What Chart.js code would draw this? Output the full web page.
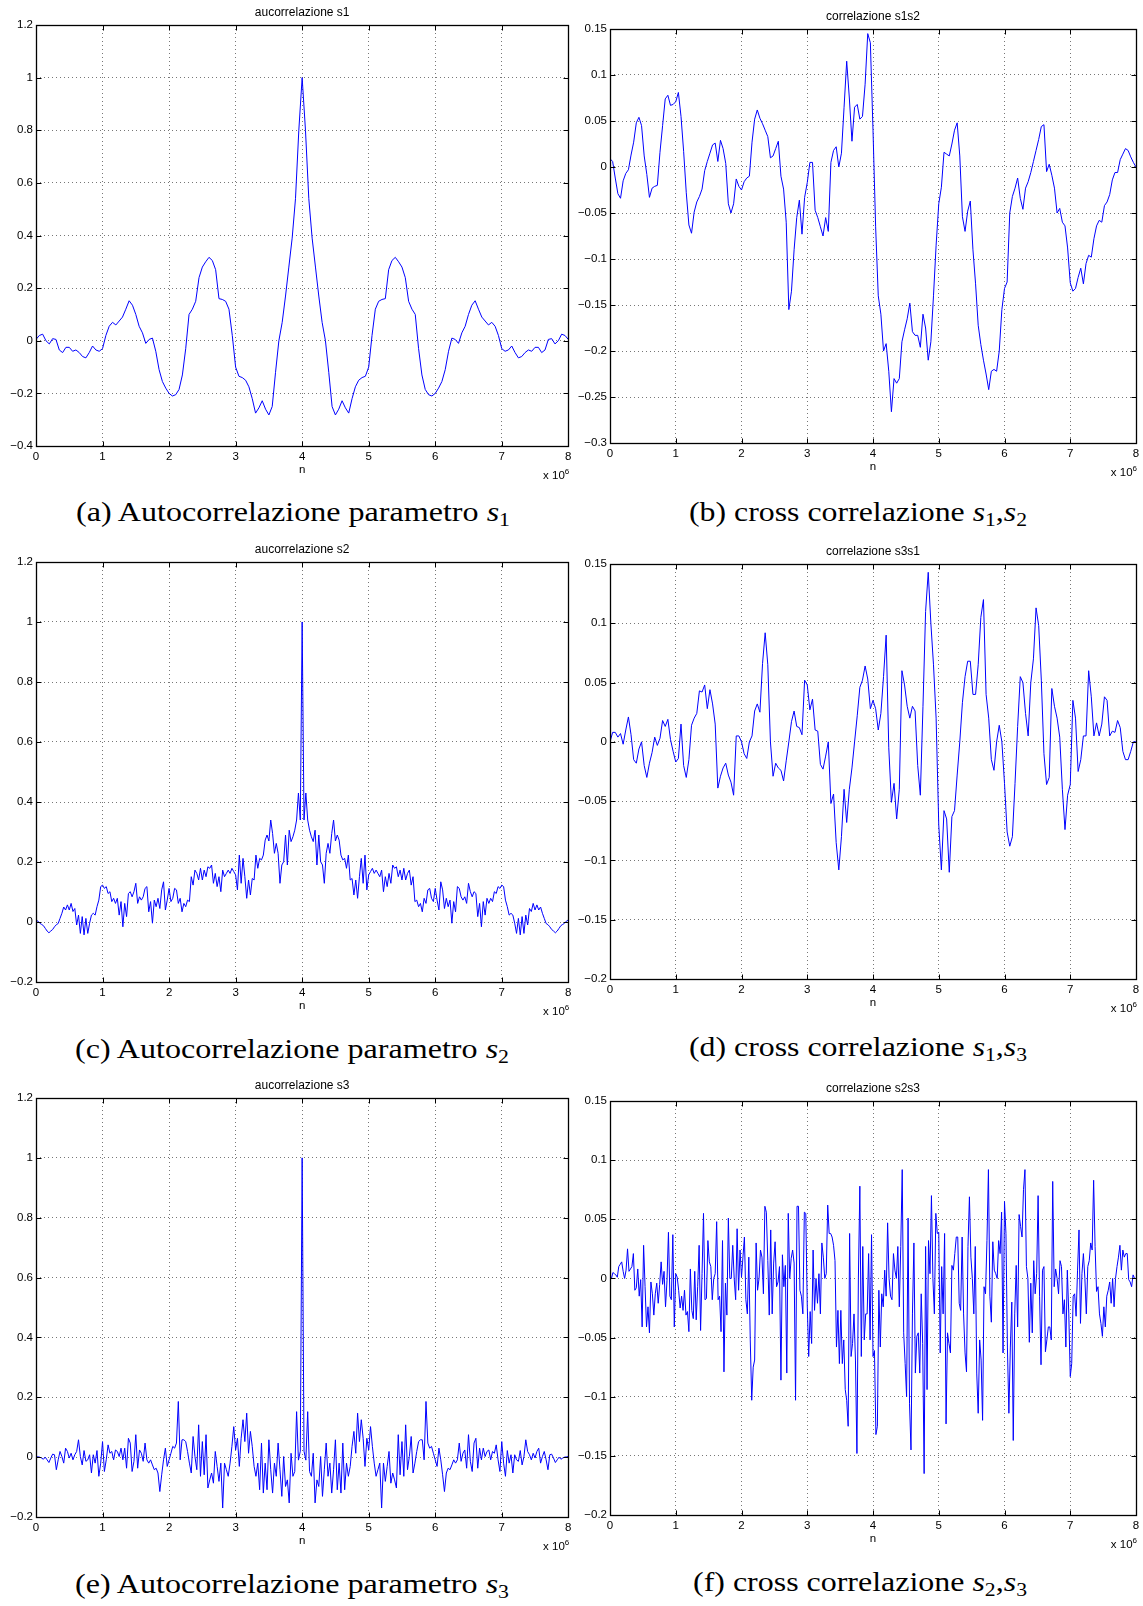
<!DOCTYPE html>
<html>
<head>
<meta charset="utf-8">
<script src="https://cdn.jsdelivr.net/npm/chart.js@4.4.1/dist/chart.umd.min.js"></script>
<style>
  html, body { margin: 0; padding: 0; background: #fff; }
  #page { position: relative; width: 1143px; height: 1606px; overflow: hidden; background: #fff; }
  #page canvas { position: absolute; }
  .cap { position: absolute; font-family: "Liberation Serif", "Times New Roman", serif; font-size: 28px; line-height: 32px;
         white-space: nowrap; color: #000; transform-origin: 0 50%; }
  .cap sub { font-size: 19px; vertical-align: -5px; line-height: 0; }
</style>
</head>
<body>
<div id="page"></div>
<script>
// lag axis, in units of 10^6
const xTicks = [0, 1, 2, 3, 4, 5, 6, 7, 8];
const yTicksS1 = [-0.4, -0.2, 0, 0.2, 0.4, 0.6, 0.8, 1, 1.2];
const yTicksAuto = [-0.2, 0, 0.2, 0.4, 0.6, 0.8, 1, 1.2];
const yTicksS1S2 = [-0.3, -0.25, -0.2, -0.15, -0.1, -0.05, 0, 0.05, 0.1, 0.15];
const yTicksCross = [-0.2, -0.15, -0.1, -0.05, 0, 0.05, 0.1, 0.15];

// autocorrelazione s1, step 0.05
const acS1 = [
  0.005,0.02,0.025,0.0,-0.012,0.008,0.005,-0.035,-0.045,-0.025,
  -0.025,-0.04,-0.035,-0.045,-0.06,-0.065,-0.045,-0.02,-0.035,-0.04,
  -0.03,0.02,0.055,0.07,0.06,0.075,0.09,0.12,0.152,0.135,
  0.1,0.055,0.03,-0.01,0.005,0.01,-0.04,-0.11,-0.155,-0.18,
  -0.2,-0.21,-0.205,-0.185,-0.13,-0.03,0.1,0.12,0.15,0.24,
  0.28,0.3,0.317,0.305,0.27,0.16,0.157,0.15,0.12,0.02,
  -0.1,-0.135,-0.14,-0.15,-0.175,-0.22,-0.275,-0.255,-0.228,-0.26,
  -0.282,-0.25,-0.12,0.0,0.07,0.17,0.28,0.39,0.54,0.8,
  1.0,
  0.8,0.54,0.39,0.28,0.17,0.07,0.0,-0.12,-0.25,-0.282,
  -0.26,-0.228,-0.255,-0.275,-0.22,-0.175,-0.15,-0.14,-0.135,-0.1,
  0.02,0.12,0.15,0.157,0.16,0.27,0.305,0.317,0.3,0.28,
  0.24,0.15,0.12,0.1,-0.03,-0.13,-0.185,-0.205,-0.21,-0.2,
  -0.18,-0.155,-0.11,-0.04,0.01,0.005,-0.01,0.03,0.055,0.1,
  0.135,0.152,0.12,0.09,0.075,0.06,0.07,0.055,0.02,-0.03,
  -0.04,-0.035,-0.02,-0.045,-0.065,-0.06,-0.045,-0.035,-0.04,-0.025,
  -0.025,-0.045,-0.035,0.005,0.008,-0.012,0.0,0.025,0.02,0.005
];

// correlazione s1s2, step 0.04
const ccS1S2 = [
  0.009,0.006,-0.012,-0.029,-0.034,-0.015,-0.007,-0.003,0.013,0.027,
  0.048,0.054,0.045,0.012,-0.008,-0.033,-0.023,-0.021,-0.02,0.016,
  0.045,0.074,0.078,0.067,0.068,0.071,0.081,0.055,0.017,-0.028,
  -0.063,-0.072,-0.049,-0.038,-0.032,-0.024,-0.004,0.006,0.015,0.024,
  0.026,0.006,0.029,0.02,0.004,-0.04,-0.05,-0.04,-0.013,-0.021,
  -0.025,-0.016,-0.012,-0.01,0.027,0.052,0.062,0.053,0.047,0.04,
  0.033,0.01,0.012,0.02,0.028,-0.01,-0.024,-0.06,-0.155,-0.135,
  -0.09,-0.055,-0.036,-0.073,-0.033,-0.017,0.005,0.005,-0.047,-0.055,
  -0.065,-0.075,-0.055,-0.07,0.005,0.018,0.022,0.0,0.015,0.065,
  0.115,0.075,0.028,0.065,0.068,0.052,0.055,0.09,0.145,0.135,
  0.04,-0.065,-0.14,-0.16,-0.2,-0.192,-0.222,-0.266,-0.23,-0.235,
  -0.23,-0.19,-0.177,-0.165,-0.148,-0.179,-0.183,-0.183,-0.196,-0.16,
  -0.175,-0.21,-0.19,-0.14,-0.085,-0.04,-0.022,0.016,0.014,0.012,
  0.025,0.04,0.048,0.012,-0.054,-0.07,-0.048,-0.037,-0.09,-0.127,
  -0.172,-0.193,-0.21,-0.225,-0.242,-0.222,-0.22,-0.222,-0.2,-0.155,
  -0.132,-0.125,-0.05,-0.032,-0.023,-0.012,-0.034,-0.046,-0.023,-0.016,
  -0.006,0.006,0.018,0.03,0.044,0.046,-0.005,0.003,-0.009,-0.023,
  -0.05,-0.045,-0.06,-0.064,-0.088,-0.126,-0.135,-0.132,-0.12,-0.11,
  -0.127,-0.105,-0.096,-0.098,-0.078,-0.064,-0.058,-0.06,-0.042,-0.038,
  -0.03,-0.014,-0.006,-0.006,0.008,0.014,0.02,0.018,0.011,0.005,
  0.0
];

// autocorrelazione s2, step 1/36
const acS2 = [
  0.007,0.003,-0.004,-0.008,-0.012,-0.021,-0.03,-0.036,-0.03,-0.025,-0.016,-0.009,
  -0.005,0.012,0.029,0.05,0.04,0.057,0.04,0.062,0.035,0.045,-0.01,0.023,
  -0.038,0.018,-0.043,0.012,-0.038,-0.004,0.023,0.029,0.023,0.051,0.073,0.118,
  0.123,0.112,0.118,0.095,0.101,0.068,0.079,0.062,0.079,0.023,0.068,-0.016,
  0.062,0.018,0.095,0.101,0.084,0.101,0.129,0.062,0.084,0.073,0.084,0.112,
  0.118,0.034,0.068,-0.004,0.073,0.051,0.079,0.045,0.107,0.134,0.04,0.073,
  0.112,0.068,0.079,0.112,0.107,0.062,0.079,0.034,0.062,0.051,0.073,0.068,
  0.151,0.123,0.173,0.162,0.14,0.179,0.14,0.173,0.151,0.184,0.179,0.19,
  0.129,0.162,0.118,0.151,0.101,0.173,0.151,0.162,0.173,0.162,0.179,0.168,
  0.157,0.107,0.223,0.129,0.212,0.151,0.079,0.14,0.09,0.145,0.14,0.223,
  0.179,0.212,0.207,0.223,0.273,0.29,0.27,0.34,0.295,0.229,0.262,0.229,
  0.129,0.19,0.201,0.29,0.19,0.306,0.268,0.284,0.306,0.34,0.43,0.34,
  1.0,
  0.34,0.43,0.34,0.306,0.284,0.268,0.306,0.19,0.29,0.201,0.19,0.129,
  0.229,0.262,0.229,0.295,0.34,0.27,0.29,0.273,0.223,0.207,0.212,0.179,
  0.223,0.14,0.145,0.09,0.14,0.079,0.151,0.212,0.129,0.223,0.107,0.157,
  0.168,0.179,0.162,0.173,0.162,0.151,0.173,0.101,0.151,0.118,0.162,0.129,
  0.19,0.179,0.184,0.151,0.173,0.14,0.179,0.14,0.162,0.173,0.123,0.151,
  0.068,0.073,0.051,0.062,0.034,0.079,0.062,0.107,0.112,0.079,0.068,0.112,
  0.073,0.04,0.134,0.107,0.045,0.079,0.051,0.073,-0.004,0.068,0.034,0.118,
  0.112,0.084,0.073,0.084,0.062,0.129,0.101,0.084,0.101,0.095,0.018,0.062,
  -0.016,0.068,0.023,0.079,0.062,0.079,0.068,0.101,0.095,0.118,0.112,0.123,
  0.118,0.073,0.051,0.023,0.029,0.023,-0.004,-0.038,0.012,-0.043,0.018,-0.038,
  0.023,-0.01,0.045,0.035,0.062,0.04,0.057,0.04,0.05,0.029,0.012,-0.005,
  -0.009,-0.016,-0.025,-0.03,-0.036,-0.03,-0.021,-0.012,-0.008,-0.004,0.003,0.007
];

// correlazione s3s1, step 0.04
const ccS3S1 = [
  0.0,0.008,0.008,0.004,0.007,-0.002,0.01,0.021,0.006,-0.015,
  -0.018,-0.006,0.0,-0.02,-0.03,-0.018,-0.009,0.004,-0.003,0.003,
  0.018,0.013,0.019,0.002,-0.008,-0.017,-0.014,0.015,-0.02,-0.03,
  -0.015,0.014,0.02,0.024,0.043,0.042,0.048,0.028,0.044,0.032,
  0.015,-0.039,-0.029,-0.022,-0.018,-0.028,-0.034,-0.045,0.005,0.005,
  0.0,-0.01,-0.014,0.0,0.005,0.026,0.032,0.025,0.066,0.092,
  0.065,0.0,-0.029,-0.018,-0.022,-0.024,-0.033,-0.016,0.0,0.017,
  0.026,0.013,0.012,0.006,0.052,0.048,0.027,0.036,0.01,0.009,
  -0.019,-0.023,-0.012,0.0,-0.052,-0.044,-0.085,-0.108,-0.08,-0.04,
  -0.068,-0.04,-0.022,0.0,0.022,0.046,0.052,0.064,0.053,0.028,
  0.035,0.028,0.01,0.024,0.055,0.09,-0.005,-0.051,-0.035,-0.065,
  -0.04,0.06,0.048,0.03,0.02,0.03,0.026,-0.02,-0.045,0.03,
  0.11,0.143,0.1,0.065,0.02,-0.07,-0.108,-0.058,-0.065,-0.11,
  -0.063,-0.058,-0.028,0.0,0.033,0.055,0.068,0.068,0.04,0.04,
  0.065,0.105,0.12,0.04,0.02,-0.015,-0.024,0.0,0.014,0.0,
  -0.035,-0.076,-0.088,-0.08,-0.035,0.013,0.055,0.05,0.024,0.005,
  0.05,0.07,0.113,0.098,0.052,-0.01,-0.036,-0.03,0.045,0.03,
  0.02,0.004,-0.04,-0.074,-0.045,-0.036,0.035,0.02,-0.025,-0.015,
  0.005,0.005,0.06,0.038,0.005,0.016,0.005,0.015,0.038,0.035,
  0.005,0.009,0.008,0.018,0.012,-0.008,-0.015,-0.015,-0.008,0.0,
  0.0
];

// autocorrelazione s3, step 1/36
const acS3 = [
  0.002,0.001,0.0,-0.003,-0.007,0.0,-0.009,-0.018,-0.003,0.01,0.008,-0.042,
  -0.009,0.019,0.002,-0.02,0.03,0.019,-0.003,0.013,-0.009,0.008,0.019,0.058,
  0.002,-0.026,0.022,-0.014,-0.009,0.008,-0.053,0.008,-0.02,0.022,-0.064,-0.02,
  0.052,-0.048,-0.009,0.041,0.013,0.019,-0.009,0.024,0.019,0.002,0.03,-0.009,
  0.03,-0.037,0.063,0.047,-0.048,-0.014,0.075,-0.037,0.024,0.013,-0.014,0.047,
  -0.009,-0.02,-0.009,-0.026,-0.042,-0.037,-0.053,-0.115,-0.059,-0.009,0.03,-0.031,
  -0.009,0.013,0.036,0.03,0.047,0.186,-0.009,0.058,0.058,0.052,0.019,-0.02,
  -0.053,0.069,0.002,-0.042,0.108,-0.064,0.052,-0.059,0.075,-0.103,-0.076,-0.053,
  -0.087,0.019,-0.031,-0.081,-0.02,-0.17,-0.02,-0.042,-0.064,-0.02,0.036,0.102,
  0.024,0.063,-0.031,0.063,0.125,0.052,0.147,0.013,0.086,0.036,-0.031,-0.064,
  -0.02,-0.109,0.047,-0.12,-0.02,-0.109,0.058,-0.042,-0.12,-0.02,-0.064,0.047,
  -0.042,-0.131,0.002,-0.098,-0.076,-0.153,0.013,-0.064,-0.048,0.152,-0.01,0.02,
  1.0,
  0.02,-0.01,0.152,-0.048,-0.064,0.013,-0.153,-0.076,-0.098,0.002,-0.131,-0.042,
  0.047,-0.064,-0.02,-0.12,-0.042,0.058,-0.109,-0.02,-0.12,0.047,-0.109,-0.02,
  -0.064,-0.031,0.036,0.086,0.013,0.147,0.052,0.125,0.063,-0.031,0.063,0.024,
  0.102,0.036,-0.02,-0.064,-0.042,-0.02,-0.17,-0.02,-0.081,-0.031,0.019,-0.087,
  -0.053,-0.076,-0.103,0.075,-0.059,0.052,-0.064,0.108,-0.042,0.002,0.069,-0.053,
  -0.02,0.019,0.052,0.058,0.058,-0.009,0.186,0.047,0.03,0.036,0.013,-0.009,
  -0.031,0.03,-0.009,-0.059,-0.115,-0.053,-0.037,-0.042,-0.026,-0.009,-0.02,-0.009,
  0.047,-0.014,0.013,0.024,-0.037,0.075,-0.014,-0.048,0.047,0.063,-0.037,0.03,
  -0.009,0.03,0.002,0.019,0.024,-0.009,0.019,0.013,0.041,-0.009,-0.048,0.052,
  -0.02,-0.064,0.022,-0.02,0.008,-0.053,0.008,-0.009,-0.014,0.022,-0.026,0.002,
  0.058,0.019,0.008,-0.009,0.013,-0.003,0.019,0.03,-0.02,0.002,0.019,-0.009,
  -0.042,0.008,0.01,-0.003,-0.018,-0.009,0.0,-0.007,-0.003,0.0,0.001,0.002
];

// correlazione s2s3, step 8/360
const ccS2S3 = [
  0,0,0.005,0.004,0.003,0.001,0.01,0.012,0.014,0.006,
  0.0,0.007,0.025,0.006,0.008,0.01,0.021,-0.01,-0.008,0.008,
  -0.015,-0.001,-0.041,0.028,-0.007,-0.041,-0.024,-0.046,-0.003,-0.013,
  -0.031,-0.013,-0.004,-0.021,-0.005,0.014,-0.005,0.006,-0.024,-0.002,
  0.039,-0.015,-0.018,0.037,-0.041,0.004,0.001,-0.01,-0.025,-0.015,
  -0.027,-0.01,-0.031,-0.028,-0.045,0.008,-0.027,-0.034,0.006,-0.035,
  -0.007,0.028,-0.044,0.004,0.055,-0.018,-0.017,0.032,0.014,0.01,
  -0.018,0.0,0.004,0.048,-0.018,-0.015,-0.045,0.032,-0.079,-0.004,
  -0.031,0.051,0.0,0.0,0.028,0.0,-0.018,0.042,-0.01,0.024,
  0.001,0.018,0.035,-0.018,-0.03,0.018,-0.052,-0.103,-0.075,-0.069,
  0.03,-0.01,0.0,0.024,0.018,-0.013,0.061,0.056,0.015,-0.031,
  0.041,-0.03,0.013,0.031,-0.007,-0.003,0.01,-0.086,0.02,-0.007,
  0.011,-0.08,0.055,0.0,0.017,0.024,0.013,-0.103,0.061,0.061,
  -0.01,-0.015,-0.03,0.056,0.055,-0.023,-0.066,-0.028,-0.055,0.024,
  -0.027,0.0,-0.021,0.004,-0.03,0.03,0.018,0.0,0.004,0.062,
  0.038,0.038,0.035,0.028,0.015,-0.058,-0.027,-0.072,-0.027,-0.072,
  -0.052,-0.094,-0.103,-0.125,0.038,-0.066,-0.055,-0.03,-0.069,-0.148,
  0.0,0.078,-0.066,0.027,-0.052,-0.03,-0.03,0.021,-0.052,0.037,
  -0.066,-0.061,-0.132,-0.125,-0.01,-0.058,-0.013,-0.024,0.007,-0.015,
  0.047,0.0,-0.015,-0.018,0.021,0.007,0.0,0.027,-0.024,0.027,
  0.092,-0.046,-0.072,-0.1,0.051,-0.106,-0.145,-0.03,0.03,-0.08,
  -0.049,-0.046,-0.08,-0.013,-0.055,-0.165,0.027,-0.094,0.032,0.004,
  0.07,0.0,-0.03,0.055,0.038,0.039,-0.063,0.01,-0.03,0.038,
  -0.123,-0.046,-0.055,-0.063,0.011,0.007,0.021,0.035,0.035,-0.021,
  -0.027,0.035,-0.03,-0.063,-0.079,0.027,0.069,0.018,0.0,-0.03,
  0.027,-0.08,-0.114,-0.052,-0.069,-0.12,-0.007,-0.013,0.032,0.092,
  -0.015,-0.037,0.031,0.007,0.004,0.0,0.032,0.021,0.056,-0.063,
  0.065,0.038,-0.058,-0.114,-0.058,-0.02,-0.137,-0.03,0.011,-0.041,
  0.054,0.044,0.035,0.075,0.092,0.01,0.0,-0.054,-0.004,-0.046,
  0.015,-0.013,0.004,0.07,-0.015,-0.073,0.007,0.01,-0.062,-0.052,
  -0.041,-0.041,-0.052,0.082,-0.007,0.008,0.0,-0.013,0.015,0.01,
  -0.03,-0.018,-0.058,0.007,-0.03,-0.083,-0.072,-0.015,-0.013,-0.032,
  0.007,0.041,-0.038,0.004,0.021,0.0,-0.03,0.01,0.015,0.03,
  0.024,0.083,0.027,-0.011,-0.007,-0.03,-0.038,-0.049,-0.024,-0.041,
  -0.015,-0.01,-0.003,-0.021,0.0,-0.024,0.0,0.01,0.018,0.028,
  0.007,0.024,0.018,0.021,0.021,-0.001,-0.003,-0.007,0.003,0.0,
  0.0
];

const SANS = '"Liberation Sans", Arial, Helvetica, sans-serif';
const tickFont = { family: SANS, size: 11.5 };
const GRID = '#777';

// plot-area rectangles of each subfigure on the page
const panels = [
  { title: 'aucorrelazione s1', values: acS1, step: 0.05, yTicks: yTicksS1, col: 0, area: { l: 36, r: 569, t: 25, b: 446 } },
  { title: 'correlazione s1s2', values: ccS1S2, step: 0.04, yTicks: yTicksS1S2, col: 1, area: { l: 610, r: 1136, t: 29, b: 443 } },
  { title: 'aucorrelazione s2', values: acS2, step: 1 / 36, yTicks: yTicksAuto, col: 0, area: { l: 36, r: 569, t: 562, b: 982 } },
  { title: 'correlazione s3s1', values: ccS3S1, step: 0.04, yTicks: yTicksCross, col: 1, area: { l: 610, r: 1136, t: 564, b: 979 } },
  { title: 'aucorrelazione s3', values: acS3, step: 1 / 36, yTicks: yTicksAuto, col: 0, area: { l: 36, r: 569, t: 1098, b: 1517 } },
  { title: 'correlazione s2s3', values: ccS2S3, step: 8 / 360, yTicks: yTicksCross, col: 1, area: { l: 610, r: 1136, t: 1101, b: 1515 } }
];
const cols = [{ left: 0, width: 575 }, { left: 575, width: 568 }];

const captions = [
  { html: '(a) Autocorrelazione parametro <i>s</i><sub>1</sub>', left: 76, right: 510, cy: 512 },
  { html: '(b) cross correlazione <i>s</i><sub>1</sub>,<i>s</i><sub>2</sub>', left: 689, right: 1027, cy: 512 },
  { html: '(c) Autocorrelazione parametro <i>s</i><sub>2</sub>', left: 75, right: 509, cy: 1049 },
  { html: '(d) cross correlazione <i>s</i><sub>1</sub>,<i>s</i><sub>3</sub>', left: 689, right: 1027, cy: 1047 },
  { html: '(e) Autocorrelazione parametro <i>s</i><sub>3</sub>', left: 75, right: 509, cy: 1584 },
  { html: '(f) cross correlazione <i>s</i><sub>2</sub>,<i>s</i><sub>3</sub>', left: 693, right: 1027, cy: 1582 }
];

const fmt = v => {
  const r = Math.round(v * 1000) / 1000;
  return (r < 0 ? '\u2212' : '') + String(Math.abs(r));
};
const toPoints = (vals, step) => vals.map((v, i) => ({ x: +(i * step).toFixed(4), y: v }));

// matlab style box, inward ticks and the x10^6 exponent
const matlabBox = {
  id: 'matlabBox',
  afterDraw(chart) {
    const { ctx, chartArea: a, scales: { x, y } } = chart;
    const al = v => Math.round(v) + 0.5;
    const L = al(a.left), R = al(a.right), T = al(a.top), B = al(a.bottom);
    ctx.save();
    ctx.strokeStyle = '#000';
    ctx.lineWidth = 1;
    ctx.setLineDash([]);
    ctx.beginPath();
    x.ticks.forEach(t => {
      const px = al(x.getPixelForValue(t.value));
      ctx.moveTo(px, B); ctx.lineTo(px, B - 5);
      ctx.moveTo(px, T); ctx.lineTo(px, T + 5);
    });
    y.ticks.forEach(t => {
      const py = al(y.getPixelForValue(t.value));
      ctx.moveTo(L, py); ctx.lineTo(L + 5, py);
      ctx.moveTo(R, py); ctx.lineTo(R - 5, py);
    });
    ctx.stroke();
    ctx.lineWidth = 1.3;
    ctx.strokeRect(L, T, R - L, B - T);
    ctx.fillStyle = '#000';
    ctx.textAlign = 'right';
    ctx.textBaseline = 'alphabetic';
    ctx.font = '8px ' + SANS;
    ctx.fillText('6', a.right + 1, a.bottom + 28);
    const w6 = ctx.measureText('6').width;
    ctx.font = '11.5px ' + SANS;
    ctx.fillText('x 10', a.right + 1 - w6, a.bottom + 33);
    ctx.restore();
  }
};

const page = document.getElementById('page');

panels.forEach(p => {
  const c = cols[p.col];
  const top = p.area.t - 30;
  const height = p.area.b + 36 - top;
  const cv = document.createElement('canvas');
  cv.width = c.width; cv.height = height;
  cv.style.left = c.left + 'px'; cv.style.top = top + 'px';
  cv.style.width = c.width + 'px'; cv.style.height = height + 'px';
  page.appendChild(cv);
  const yt = p.yTicks;

  new Chart(cv, {
    type: 'line',
    data: { datasets: [{ data: toPoints(p.values, p.step), borderColor: '#0000ff', borderWidth: 1,
                         pointRadius: 0, tension: 0, fill: false }] },
    options: {
      responsive: false, animation: false, events: [],
      layout: { padding: { left: 0, right: c.left + c.width - p.area.r, top: 0, bottom: 0 } },
      plugins: {
        legend: { display: false }, tooltip: { enabled: false },
        title: { display: true, text: p.title, fullSize: false, color: '#000',
                 font: { family: SANS, size: 12, weight: 'normal' }, padding: { top: 10.3, bottom: 5.3 } }
      },
      scales: {
        x: {
          type: 'linear', min: 0, max: 8,
          afterBuildTicks: s => { s.ticks = xTicks.map(v => ({ value: v })); },
          afterFit: s => { s.height = 36; },
          ticks: { font: tickFont, color: '#000', padding: 3.5, maxRotation: 0, autoSkip: false, callback: v => String(v) },
          grid: { color: GRID, lineWidth: 1, drawTicks: false },
          border: { display: false, dash: [1, 3] },
          title: { display: true, text: 'n', color: '#000', font: tickFont, padding: { top: 0, bottom: 5 } }
        },
        y: {
          type: 'linear', min: yt[0], max: yt[yt.length - 1],
          afterBuildTicks: s => { s.ticks = yt.map(v => ({ value: v })); },
          afterFit: s => { s.width = p.area.l - c.left; },
          ticks: { font: tickFont, color: '#000', padding: 3, autoSkip: false, callback: fmt },
          grid: { color: GRID, lineWidth: 1, drawTicks: false },
          border: { display: false, dash: [1, 3] }
        }
      }
    },
    plugins: [matlabBox]
  });
});

captions.forEach(cp => {
  const d = document.createElement('div');
  d.className = 'cap';
  d.innerHTML = cp.html;
  d.style.left = cp.left + 'px';
  d.style.top = (cp.cy - 16) + 'px';
  page.appendChild(d);
  const w = d.getBoundingClientRect().width;
  d.style.transform = 'scaleX(' + ((cp.right - cp.left) / w).toFixed(4) + ')';
});
</script>
</body>
</html>
